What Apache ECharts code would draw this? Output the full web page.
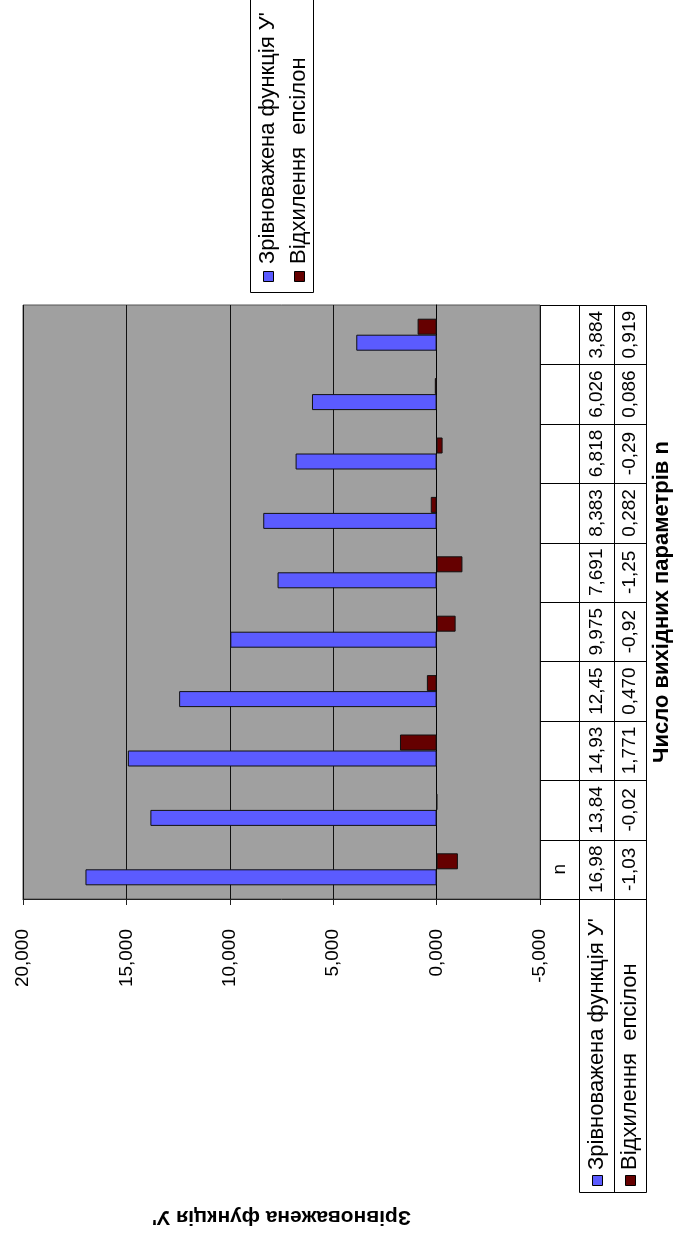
<!DOCTYPE html>
<html>
<head>
<meta charset="utf-8">
<script src="https://cdn.jsdelivr.net/npm/echarts@6/dist/echarts.min.js"></script>
<style>
  html, body { margin: 0; padding: 0; background: #fff; overflow: hidden; }
  #chart { width: 678px; height: 1234px; }
</style>
</head>
<body>
<div id="chart"></div>
<script>
// Category names shown in the header row of the data table
const categories = ['n', '', '', '', '', '', '', '', '', ''];
const seriesNames = ["Зрівноважена функція У'", 'Відхилення  епсілон'];
// Series values
const balancedY = [16.98, 13.84, 14.93, 12.45, 9.975, 7.691, 8.383, 6.818, 6.026, 3.884];
const epsilon = [-1.03, -0.02, 1.771, 0.470, -0.92, -1.25, 0.282, -0.29, 0.086, 0.919];
// Value axis ticks
const valueTicks = [-5, 0, 5, 10, 15, 20];
const valueTitle = "Зрівноважена функція У'";
const categoryTitle = 'Число вихідних параметрів n';

const FONT = "'Liberation Sans', Arial, sans-serif";
const COLORS = ['#5b5bff', '#650000'];
const GRID = { left: 23, right: 138, top: 305, bottom: 335 };
// data table rows (horizontal extent on screen)
const ROW_HEADER = [540, 579];
const ROW_SERIES = [[579, 614], [614, 646]];
const LABEL_END = 1192;

const decimalComma = s => s.replace('.', ',');
// values in the table are shown with five characters, as in a narrow spreadsheet cell
function cellText(v) {
  const intPart = (v < 0 ? '-' : '') + Math.trunc(Math.abs(v));
  return decimalComma(v.toFixed(Math.max(0, 4 - intPart.length)));
}

const chart = echarts.init(document.getElementById('chart'), null, { renderer: 'canvas' });

const textBase = { fontFamily: FONT, fontSize: 19, color: '#000' };

// the bars of a group stack upward on screen in reverse list order,
// so the deviation series is listed first to sit above the function bar
const barSeries = [
  { name: seriesNames[1], data: epsilon, color: COLORS[1] },
  { name: seriesNames[0], data: balancedY, color: COLORS[0] }
].map(s => ({
  name: s.name, type: 'bar', data: s.data, barWidth: 16, barGap: '0%',
  itemStyle: { color: s.color, borderColor: '#111', borderWidth: 1 }
}));

chart.setOption({
  animation: false,
  backgroundColor: '#fff',
  textStyle: { fontFamily: FONT },
  grid: Object.assign({
    show: true, backgroundColor: '#a0a0a0', borderColor: '#555', borderWidth: 1,
    containLabel: false, outerBoundsMode: 'none'
  }, GRID),
  xAxis: {
    type: 'value',
    min: valueTicks[0],
    max: valueTicks[valueTicks.length - 1],
    interval: valueTicks[1] - valueTicks[0],
    inverse: true,
    position: 'bottom',
    axisLine: { show: true, onZero: false, lineStyle: { color: '#222', width: 1 } },
    axisTick: { show: true, length: 6, lineStyle: { color: '#222' } },
    splitLine: { show: true, lineStyle: { color: '#111', width: 1 } },
    axisLabel: Object.assign({ rotate: 90, margin: 30, formatter: v => decimalComma(v.toFixed(3)) }, textBase),
    name: valueTitle,
    nameLocation: 'middle',
    nameGap: 307,
    nameRotate: 180,
    nameTextStyle: Object.assign({}, textBase, { fontWeight: 'bold', fontSize: 21 })
  },
  yAxis: {
    type: 'category',
    data: categories,
    position: 'right',
    axisLine: { show: true, lineStyle: { color: '#000', width: 1 } },
    axisTick: { show: false },
    axisLabel: { show: false },
    splitLine: { show: false },
    name: categoryTitle,
    nameLocation: 'middle',
    nameGap: 111,
    nameRotate: 90,
    nameTextStyle: Object.assign({}, textBase, { fontWeight: 'bold', fontSize: 22 })
  },
  series: barSeries
});

// Data table and legend, placed from the category axis positions
function buildTable() {
  const centers = categories.map((c, i) => chart.convertToPixel({ yAxisIndex: 0 }, i));
  const band = Math.abs(centers[0] - centers[1]);
  const plotTop = GRID.top;
  const plotBottom = 1234 - GRID.bottom;
  const crisp = v => Math.round(v) + 0.5;
  const els = [];
  const line = (x1, y1, x2, y2) => els.push({
    type: 'line', silent: true,
    shape: { x1: crisp(x1), y1: crisp(y1), x2: crisp(x2), y2: crisp(y2) },
    style: { stroke: '#000', lineWidth: 1 }
  });
  const vtext = (x, y, text, align, size) => els.push({
    type: 'text', silent: true, x: x, y: y, rotation: Math.PI / 2,
    style: { text: text, textAlign: align, textVerticalAlign: 'middle', font: (size || 19) + 'px ' + FONT, fill: '#000' }
  });

  // grid lines of the table
  const tableRight = ROW_SERIES[1][1];
  centers.forEach(c => line(ROW_HEADER[0], c - band / 2, tableRight, c - band / 2));
  line(ROW_HEADER[0], plotBottom, tableRight, plotBottom);
  line(ROW_SERIES[0][0], plotBottom, ROW_SERIES[0][0], plotTop);
  [ROW_SERIES[0][0], ROW_SERIES[0][1], ROW_SERIES[1][1]].forEach(x => line(x, plotTop, x, LABEL_END));
  line(ROW_SERIES[0][0], LABEL_END, tableRight, LABEL_END);

  // header row: category names
  const hx = (ROW_HEADER[0] + ROW_HEADER[1]) / 2;
  categories.forEach((c, i) => { if (c) vtext(hx, centers[i], c, 'center'); });

  // value rows with their series keys
  [balancedY, epsilon].forEach((vals, r) => {
    const x = (ROW_SERIES[r][0] + ROW_SERIES[r][1]) / 2;
    vals.forEach((v, i) => vtext(x, centers[i], cellText(v), 'center'));
    els.push({ type: 'rect', silent: true, shape: { x: Math.round(x) - 5 + 0.5, y: LABEL_END - 17 + 0.5, width: 10, height: 10 },
      style: { fill: COLORS[r], stroke: '#000', lineWidth: 1 } });
    vtext(x, LABEL_END - 22, seriesNames[r], 'left', 22);
  });

  // legend box
  const legendX = [250, 313];
  els.push({ type: 'rect', silent: true, shape: { x: legendX[0] + 0.5, y: -2.5, width: legendX[1] - legendX[0], height: 295 },
    style: { fill: '#fff', stroke: '#000', lineWidth: 1 } });
  [267.5, 299].forEach((x, r) => {
    els.push({ type: 'rect', silent: true, shape: { x: Math.round(x) - 5 + 0.5, y: 271.5, width: 10, height: 10 },
      style: { fill: COLORS[r], stroke: '#000', lineWidth: 1 } });
    vtext(x, 264, seriesNames[r], 'left', 22);
  });

  chart.setOption({ graphic: { elements: els } });
}
buildTable();
</script>
</body>
</html>
